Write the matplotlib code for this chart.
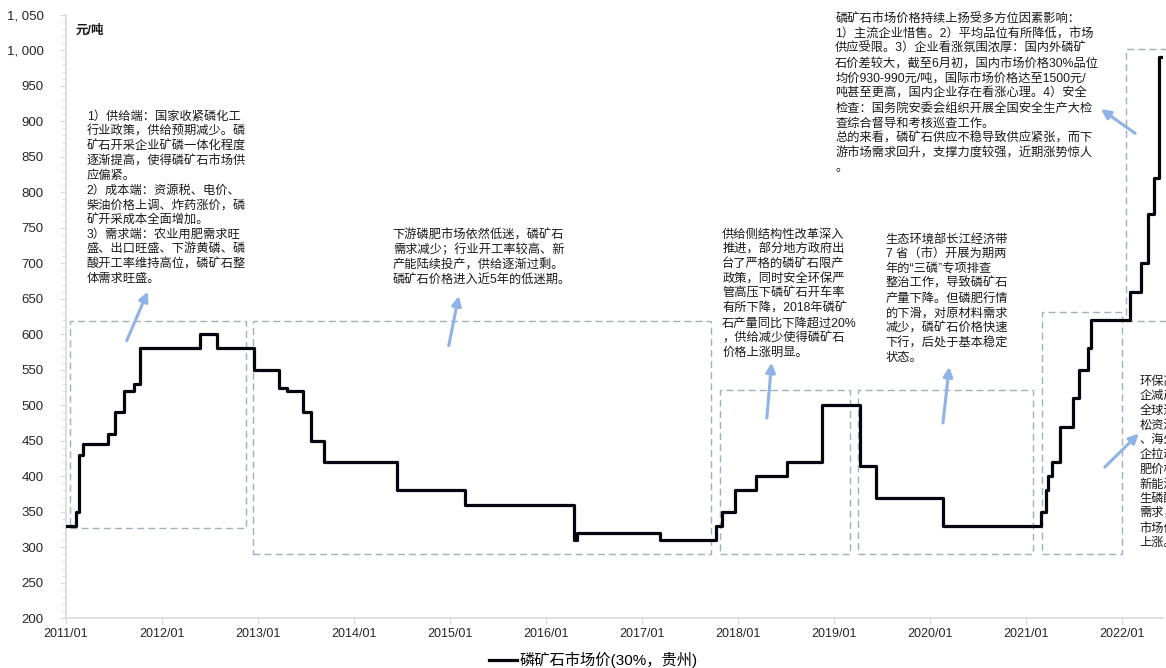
import matplotlib
matplotlib.use('Agg')
import matplotlib.pyplot as plt
import matplotlib.dates as mdates
from matplotlib.patches import Rectangle
from matplotlib.ticker import MultipleLocator, FuncFormatter
import pandas as pd

plt.rcParams['font.family'] = ['Liberation Sans', 'Noto Sans CJK SC']

# 磷矿石市场价(30%，贵州)，元/吨，价格变动日期
price_dates = [
    '2011-01-01', '2011-02-08', '2011-02-20', '2011-03-05', '2011-06-10',
    '2011-07-05', '2011-08-08', '2011-09-16', '2011-10-08', '2012-05-26',
    '2012-07-30', '2012-12-15', '2013-03-20', '2013-04-20', '2013-06-20',
    '2013-07-22', '2013-09-10', '2014-06-15', '2015-02-25', '2016-04-15',
    '2016-04-28', '2017-03-10', '2017-10-10', '2017-11-01', '2017-12-20',
    '2018-03-10', '2018-07-05', '2018-11-15', '2019-04-10', '2019-06-10',
    '2020-02-20', '2021-02-25', '2021-03-18', '2021-03-25', '2021-04-08',
    '2021-05-10', '2021-06-27', '2021-07-22', '2021-08-22', '2021-09-05',
    '2022-01-30', '2022-03-15', '2022-04-10', '2022-05-01', '2022-05-22',
    '2022-05-28',
]
prices = [
    330, 350, 430, 445, 460,
    490, 520, 530, 580, 600,
    580, 550, 525, 520, 490,
    450, 420, 380, 360, 310,
    320, 310, 330, 350, 380,
    400, 420, 500, 415, 370,
    330, 350, 380, 400, 420,
    470, 510, 550, 580, 620,
    660, 700, 770, 820, 990,
    990,
]

note1 = ("1）供给端：国家收紧磷化工\n行业政策，供给预期减少。磷\n矿石开采企业矿磷一体化程度\n"
         "逐渐提高，使得磷矿石市场供\n应偏紧。\n2）成本端：资源税、电价、\n柴油价格上调、炸药涨价，磷\n"
         "矿开采成本全面增加。\n3）需求端：农业用肥需求旺\n盛、出口旺盛、下游黄磷、磷\n"
         "酸开工率维持高位，磷矿石整\n体需求旺盛。")
note2 = ("下游磷肥市场依然低迷，磷矿石\n需求减少；行业开工率较高、新\n产能陆续投产，供给逐渐过剩。\n"
         "磷矿石价格进入近5年的低迷期。")
note3 = ("供给侧结构性改革深入\n推进，部分地方政府出\n台了严格的磷矿石限产\n政策，同时安全环保严\n"
         "管高压下磷矿石开车率\n有所下降，2018年磷矿\n石产量同比下降超过20%\n，供给减少使得磷矿石\n价格上涨明显。")
note4 = ("生态环境部长江经济带\n7 省（市）开展为期两\n年的“三磷”专项排查\n整治工作，导致磷矿石\n"
         "产量下降。但磷肥行情\n的下滑，对原材料需求\n减少，磷矿石价格快速\n下行，后处于基本稳定\n状态。")
note5 = ("磷矿石市场价格持续上扬受多方位因素影响：\n1）主流企业惜售。2）平均品位有所降低，市场\n"
         "供应受限。3）企业看涨氛围浓厚：国内外磷矿\n石价差较大，截至6月初，国内市场价格30%品位\n"
         "均价930-990元/吨，国际市场价格达至1500元/\n吨甚至更高，国内企业存在看涨心理。4）安全\n"
         "检查：国务院安委会组织开展全国安全生产大检\n查综合督导和考核巡查工作。\n"
         "总的来看，磷矿石供应不稳导致供应紧张，而下\n游市场需求回升，支撑力度较强，近期涨势惊人\n。")
note6 = ("环保高压，磷化\n企减产限产；\n全球通胀，宽\n松资源背景下\n、海外化肥巨\n企拉动国际化\n"
         "肥价格上涨；\n新能源带动衍\n生磷酸铁锂等\n需求，磷矿石\n市场价格持续\n上涨。")


def d(s):
    return mdates.date2num(pd.Timestamp(s))


fig = plt.figure(figsize=(11.66, 6.68), dpi=100)
ax = fig.add_axes([0.0566, 0.0744, 0.9408, 0.9036])

x = [pd.Timestamp(s) for s in price_dates]
ax.plot(x, prices, drawstyle='steps-post', color='#05050f', lw=2.3,
        label='磷矿石市场价(30%，贵州)', zorder=3)

ax.set_xlim(d('2011-01-01'), d('2022-06-05'))
ax.set_ylim(200, 1050)
ax.yaxis.set_major_locator(MultipleLocator(50))
ax.yaxis.set_minor_locator(MultipleLocator(10))
ax.yaxis.set_major_formatter(FuncFormatter(lambda v, p: f'{v:,.0f}'.replace(',', ', ')))
ax.xaxis.set_major_locator(mdates.YearLocator())
ax.xaxis.set_major_formatter(mdates.DateFormatter('%Y/%m'))

for side in ['top', 'right']:
    ax.spines[side].set_visible(False)
for side in ['left', 'bottom']:
    ax.spines[side].set_color('#d9d9d9')
    ax.spines[side].set_linewidth(1.2)
ax.tick_params(axis='y', which='major', length=4, color='#d9d9d9', pad=12,
               labelsize=9.5, labelcolor='#262626')
ax.tick_params(axis='y', which='minor', length=3, color='#d9d9d9')
ax.tick_params(axis='x', which='major', length=4, color='#d9d9d9', pad=3,
               labelsize=9, labelcolor='#262626')

# 虚线框
box_style = dict(fill=False, edgecolor='#a3afbc', lw=1.0, ls=(0, (5, 3)), zorder=2)
boxes = [
    ('2011-01-15', '2012-11-15', 327, 619),
    ('2012-12-13', '2017-09-20', 290, 619),
    ('2017-10-23', '2019-03-03', 290, 521),
    ('2019-04-01', '2021-01-26', 290, 521),
    ('2021-03-01', '2021-12-30', 290, 632),
    ('2022-01-15', '2023-01-01', 619, 1002),
]
for x0, x1, y0, y1 in boxes:
    ax.add_patch(Rectangle((d(x0), y0), d(x1) - d(x0), y1 - y0,
                           clip_on=False, **box_style))

# 箭头
arrow_color = '#8fb3e6'
arrows = [
    ('2011-08-20', 591, '2011-11-08', 660),
    ('2014-12-27', 584, '2015-02-03', 654),
    ('2018-04-20', 482, '2018-05-08', 560),
    ('2020-02-19', 475, '2020-03-14', 554),
    ('2021-10-27', 413, '2022-03-05', 460),
    ('2022-02-19', 883, '2021-10-12', 917),
]
for x0, y0, x1, y1 in arrows:
    ax.annotate('', xy=(d(x1), y1), xytext=(d(x0), y0),
                arrowprops=dict(arrowstyle='-|>', color=arrow_color, lw=2.2,
                                mutation_scale=14, shrinkA=0, shrinkB=0),
                annotation_clip=False, zorder=2)

# 说明文字
text_style = dict(fontsize=8.8, color='#1a1a1a', va='top', ha='left',
                  linespacing=1.3, clip_on=False, zorder=4)
ax.text(d('2011-03-21'), 915, note1, **text_style)
ax.text(d('2014-05-28'), 748, note2, **text_style)
ax.text(d('2017-11-01'), 749, note3, **text_style)
ax.text(d('2019-07-16'), 742, note4, **text_style)
ax.text(d('2019-01-05'), 1052, note5, **text_style)
ax.text(d('2022-03-08'), 542, note6, **text_style)

ax.text(d('2011-02-05'), 1027, '元/吨', fontsize=9, fontweight='bold',
        color='#1a1a1a', va='center', ha='left')

fig.legend(loc='center', bbox_to_anchor=(0.509, 0.012), frameon=False,
           fontsize=11, handlelength=1.8, handletextpad=0.2)

fig.savefig('out.png', dpi=100)
